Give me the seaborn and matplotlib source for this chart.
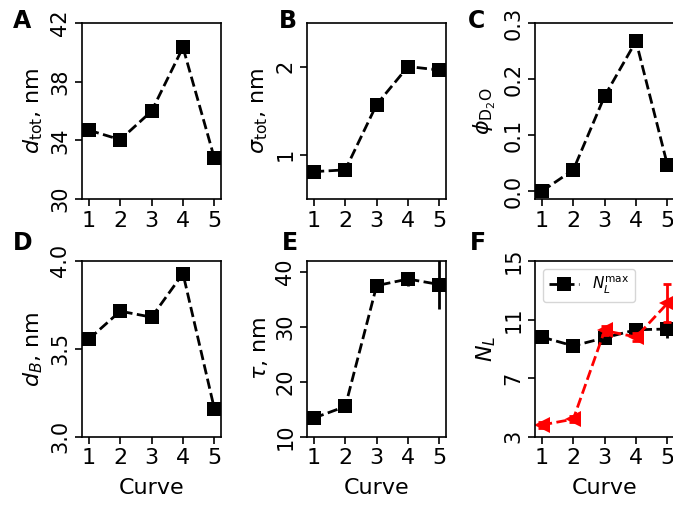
import numpy as np
import pandas as pd
import matplotlib
matplotlib.use("Agg")
import matplotlib.pyplot as plt
import seaborn as sns

curve = [1, 2, 3, 4, 5]
d_tot = [34.7, 34.05, 36.0, 40.35, 32.8]
sigma_tot = [0.81, 0.83, 1.57, 2.0, 1.96]
phi_d2o = [0.0, 0.038, 0.17, 0.268, 0.047]
d_b = [3.555, 3.714, 3.68, 3.928, 3.16]
tau = [13.4, 15.5, 37.5, 38.7, 37.7]
tau_err = [0.5, 0.6, 1.0, 1.3, 4.4]
nl_max = [9.8, 9.2, 9.75, 10.3, 10.35]
nl_max_err = [0.2, 0.2, 0.2, 0.3, 0.6]
nl = [3.8, 4.2, 10.25, 9.8, 12.1]
nl_err = [0.2, 0.2, 0.3, 0.3, 1.3]

sns.set_style("ticks")
plt.rcParams['font.family'] = ['DejaVu Sans']
plt.rcParams['font.size'] = 16
for k in ['text.color', 'axes.labelcolor', 'xtick.color', 'ytick.color', 'axes.edgecolor']:
    plt.rcParams[k] = 'black'
plt.rcParams['xtick.direction'] = 'out'
plt.rcParams['ytick.direction'] = 'out'

fig = plt.figure(figsize=(6.73, 5.14), dpi=100)

W = 0.206
H = 0.342
lefts = [0.1218, 0.4562, 0.795]
bottoms = [0.6128, 0.1504]

panels = [
    ("A", d_tot, None, r"$d_{\mathrm{tot}}$, nm", (30, 42), [30, 34, 38, 42], ["30", "34", "38", "42"]),
    ("B", sigma_tot, None, r"$\sigma_{\mathrm{tot}}$, nm", (0.5, 2.49), [1, 2], ["1", "2"]),
    ("C", phi_d2o, None, r"$\phi_{\mathrm{D_2O}}$", (-0.014, 0.3), [0.0, 0.1, 0.2, 0.3], ["0.0", "0.1", "0.2", "0.3"]),
    ("D", d_b, None, r"$d_B$, nm", (3.0, 4.0), [3.0, 3.5, 4.0], ["3.0", "3.5", "4.0"]),
    ("E", tau, tau_err, r"$\tau$, nm", (10, 42), [10, 20, 30, 40], ["10", "20", "30", "40"]),
    ("F", nl_max, nl_max_err, r"$N_L$", (3, 15), [3, 7, 11, 15], ["3", "7", "11", "15"]),
]

label_pos = {"A": (13, 9), "B": (279, 9), "C": (468, 9),
             "D": (13, 231), "E": (282, 231), "F": (470, 231)}

for i, (lab, vals, errs, ylab, ylim, yt, ytl) in enumerate(panels):
    r, c = divmod(i, 3)
    ax = fig.add_axes([lefts[c], bottoms[r], W, H])
    df = pd.DataFrame({"Curve": curve, "v": vals})
    sns.lineplot(data=df, x="Curve", y="v", ax=ax, color="k", marker="s",
                 markersize=10, markeredgewidth=0, linestyle="--", lw=2,
                 label=r"$N_L^{\mathrm{max}}$" if lab == "F" else None,
                 legend=False)
    if errs is not None:
        ax.errorbar(curve, vals, yerr=errs, fmt="none", ecolor="k", elinewidth=2, capsize=0)
    if lab == "F":
        df2 = pd.DataFrame({"Curve": curve, "v": nl})
        sns.lineplot(data=df2, x="Curve", y="v", ax=ax, color="red", marker="<",
                     markersize=12, markeredgewidth=0, linestyle="--", lw=2, legend=False)
        ax.errorbar(curve, nl, yerr=nl_err, fmt="none", ecolor="red", elinewidth=2, capsize=3, capthick=2)
        h, l = ax.get_legend_handles_labels()
        ax.legend(h[:1], l[:1], loc="upper left", fontsize=11, handlelength=2,
                  borderpad=0.4, framealpha=0.8)
    ax.set_xlim(0.78, 5.2)
    ax.set_ylim(*ylim)
    ax.set_xticks(curve)
    ax.set_xticklabels([str(x) for x in curve], fontsize=16)
    ax.set_yticks(yt)
    ax.set_yticklabels(ytl, rotation=90, va="center", fontsize=15)
    ax.set_ylabel(ylab, fontsize=16)
    ax.set_xlabel("Curve" if r == 1 else "", fontsize=16, labelpad=7)
    ax.tick_params(length=5, width=1.2)
    for s in ax.spines.values():
        s.set_linewidth(1.2)
        s.set_color("k")
    px, py = label_pos[lab]
    fig.text(px / 673, 1 - py / 514, lab, fontsize=17, fontweight="bold",
             ha="left", va="top")

fig.savefig("out.png", dpi=100)
